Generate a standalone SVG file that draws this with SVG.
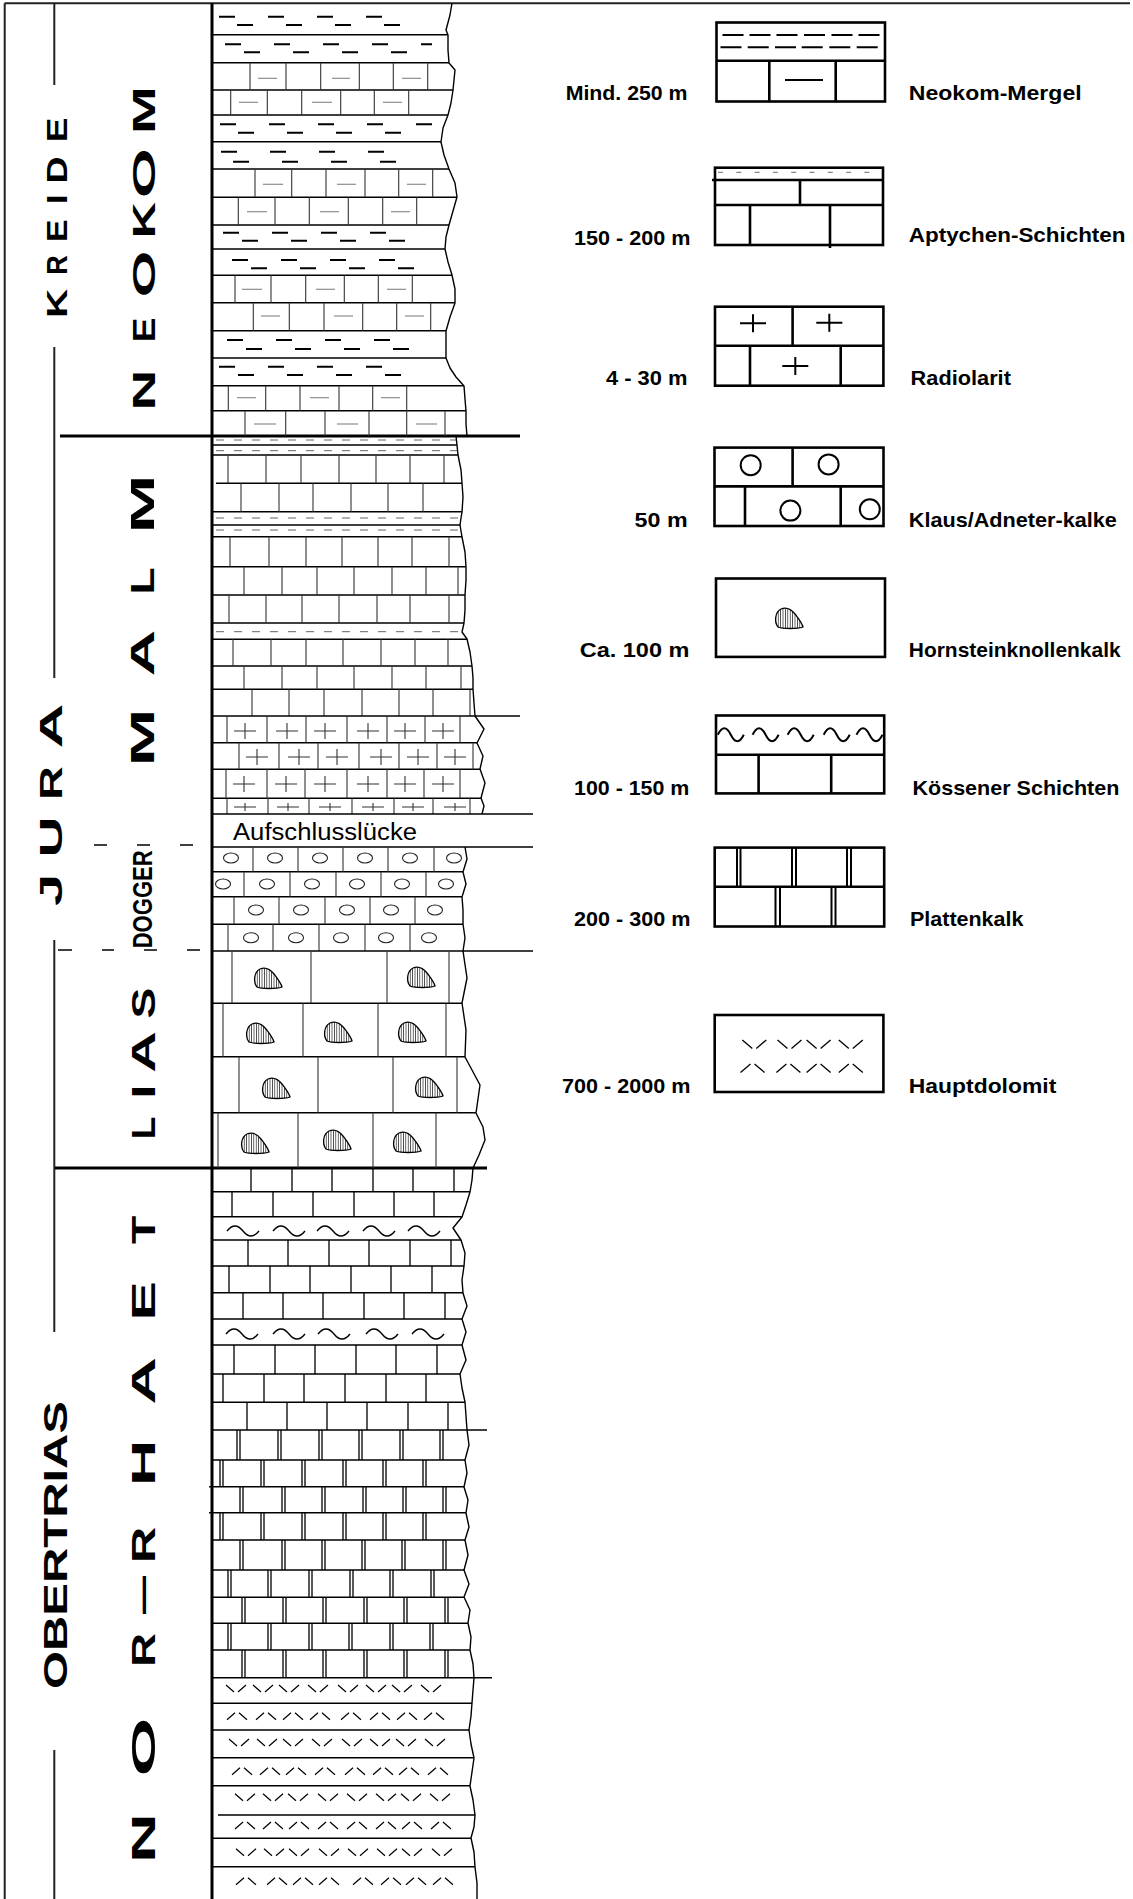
<svg xmlns="http://www.w3.org/2000/svg" width="1133" height="1899" viewBox="0 0 1133 1899">
<style>
.fr{stroke:#222;stroke-width:2;fill:none}
.tk{stroke:#000;stroke-width:3;fill:none}
.ln{stroke:#000;stroke-width:1.4;fill:none}
.vl{stroke:#333;stroke-width:1.1;fill:none}
.vk{stroke:#000;stroke-width:1.3;fill:none}
.gr{stroke:#777;stroke-width:1.1;fill:none}
.md{stroke:#000;stroke-width:2;stroke-dasharray:16 33;fill:none}
.gd{stroke:#666;stroke-width:1;stroke-dasharray:8 10;fill:none}
.edge{stroke:#000;stroke-width:1.4;fill:none;stroke-linejoin:round}
.dsh{stroke:#000;stroke-width:1.6;fill:none}
.big{font-family:"Liberation Sans",Arial,sans-serif;font-weight:bold;text-anchor:middle;fill:#000}
.side{font-family:"Liberation Sans",Arial,sans-serif;font-weight:bold;fill:#000}
.leg{font-family:"Liberation Sans",Arial,sans-serif;font-weight:bold;font-size:21px;fill:#000}
.lb{stroke:#000;stroke-width:2.6;fill:none}
.ls{stroke:#000;stroke-width:2;fill:none}
</style>
<defs>
<pattern id="hatch" patternUnits="userSpaceOnUse" width="2.4" height="4"><path d="M1.2 0V4" stroke="#000" stroke-width="0.7"/></pattern>
<path id="nod" d="M-11 9C-15 4-14-6-8-9C-3-11 2-9 6-4C9 0 13 5 14 9C8 11-6 11-11 9Z" fill="url(#hatch)" stroke="#000" stroke-width="1.3"/>
<path id="cr" d="M-11 0H11M0-8V8" stroke="#333" stroke-width="1.1" fill="none"/>
<path id="crs" d="M-11 0H11M0-4V4" stroke="#333" stroke-width="1.1" fill="none"/>
<ellipse id="oo" cx="0" cy="0" rx="7.5" ry="5" fill="none" stroke="#222" stroke-width="1.1"/>
<path id="tl" d="M0 0q8-10 16 0t16 0" fill="none" stroke="#000" stroke-width="1.4"/>
<path id="vv" d="M0-4L8 3M12 3L20-4" fill="none" stroke="#000" stroke-width="1.2"/>
<path id="aa" d="M0 4L8-3M12-3L20 4" fill="none" stroke="#000" stroke-width="1.2"/>
<path id="lcr" d="M-13 0H13M0-9V9" fill="none" stroke="#000" stroke-width="2"/>
<path id="ltl" d="M0 0q6.5-13 13 0t13 0" fill="none" stroke="#000" stroke-width="2"/>
<path id="lvv" d="M0-4.5L10 4M14 4L24-4.5" fill="none" stroke="#000" stroke-width="1.3"/>
<path id="laa" d="M0 4.5L10-4M14-4L24 4.5" fill="none" stroke="#000" stroke-width="1.3"/>
</defs>

<g id="frame">
<path class="fr" d="M4.7 3.3H1130M4.7 3.3V1899"/>
<path class="fr" d="M54.3 3.3V85M54.3 347V678M54.3 940V1332M54.3 1750V1899" stroke-width="1.8"/>
<path class="tk" d="M212 3.3V1899"/>
<path class="tk" d="M60 436H520M55 1168H487"/>
<path class="dsh" d="M94 845H107M137 845H150M180 845H193M58 950H72M102 950H114M144 950H157M187 950H200"/>
</g>

<g id="age-labels">
<g id="kreide">
<text class="big" font-size="30" transform="translate(66.7,303.3) rotate(-90) scale(1.35,1)">K</text>
<text class="big" font-size="30" transform="translate(66.7,265) rotate(-90) scale(0.9,1)">R</text>
<text class="big" font-size="30" transform="translate(66.7,230.8) rotate(-90) scale(1.13,1)">E</text>
<text class="big" font-size="30" transform="translate(66.7,199.2) rotate(-90) scale(1.2,1)">I</text>
<text class="big" font-size="30" transform="translate(66.7,170) rotate(-90) scale(1.25,1)">D</text>
<text class="big" font-size="30" transform="translate(66.7,130) rotate(-90) scale(1.23,1)">E</text>
</g>
<g id="neokom">
<text class="big" font-size="32" transform="translate(155,110) rotate(-90) scale(1.8,1)">M</text>
<text class="big" font-size="32" transform="translate(155,173) rotate(-90) scale(2.0,1)">O</text>
<text class="big" font-size="32" transform="translate(155,220) rotate(-90) scale(1.57,1)">K</text>
<text class="big" font-size="32" transform="translate(155,274) rotate(-90) scale(1.87,1)">O</text>
<text class="big" font-size="32" transform="translate(155,330) rotate(-90) scale(1.16,1)">E</text>
<text class="big" font-size="32" transform="translate(155,390) rotate(-90) scale(1.77,1)">N</text>
</g>
<g id="malm">
<text class="big" font-size="33" transform="translate(154,504) rotate(-90) scale(2.15,1)">M</text>
<text class="big" font-size="33" transform="translate(154,581) rotate(-90) scale(1.34,1)">L</text>
<text class="big" font-size="33" transform="translate(154,653) rotate(-90) scale(1.95,1)">A</text>
<text class="big" font-size="33" transform="translate(154,737.5) rotate(-90) scale(2.1,1)">M</text>
</g>
<g id="jura">
<text class="big" font-size="31" transform="translate(61.7,726) rotate(-90) scale(2.0,1)">A</text>
<text class="big" font-size="31" transform="translate(61.7,783) rotate(-90) scale(1.5,1)">R</text>
<text class="big" font-size="31" transform="translate(61.7,837) rotate(-90) scale(1.83,1)">U</text>
<text class="big" font-size="31" transform="translate(61.7,890) rotate(-90) scale(1.87,1)">J</text>
</g>
<g id="dogger">
<text class="side" font-size="28" textLength="98" lengthAdjust="spacingAndGlyphs" transform="translate(151.7,948.3) rotate(-90)">DOGGER</text>
</g>
<g id="lias">
<text class="big" font-size="33" transform="translate(155,1003) rotate(-90) scale(1.4,1)">S</text>
<text class="big" font-size="33" transform="translate(155,1052) rotate(-90) scale(1.74,1)">A</text>
<text class="big" font-size="33" transform="translate(155,1091.5) rotate(-90) scale(1.5,1)">I</text>
<text class="big" font-size="33" transform="translate(155,1128) rotate(-90) scale(1.12,1)">L</text>
</g>
<g id="obertrias">
<text class="side" font-size="32.5" textLength="288" lengthAdjust="spacingAndGlyphs" transform="translate(66.7,1689) rotate(-90)">OBERTRIAS</text>
</g>
<g id="nor-rhaet">
<text class="big" font-size="33" transform="translate(155,1230) rotate(-90) scale(1.4,1)">T</text>
<text class="big" font-size="33" transform="translate(155,1301) rotate(-90) scale(1.78,1)">E</text>
<text class="big" font-size="33" transform="translate(155,1381) rotate(-90) scale(2.0,1)">A</text>
<text class="big" font-size="33" transform="translate(155,1463) rotate(-90) scale(1.94,1)">H</text>
<text class="big" font-size="33" transform="translate(155,1545) rotate(-90) scale(1.52,1)">R</text>
<text class="big" font-size="33" transform="translate(152.5,1595) rotate(-90) scale(1.15,1)">—</text>
<text class="big" font-size="33" transform="translate(155,1650) rotate(-90) scale(1.43,1)">R</text>
<text class="big" font-size="33" transform="translate(155,1747) rotate(-90) scale(2.3,1)">O</text>
<text class="big" font-size="33" transform="translate(155,1838) rotate(-90) scale(2.1,1)">N</text>
</g>
</g>

<g id="column">
<g id="neokom-beds">
<path class="ln" d="M212 34.7H448M212 62.7H449M212 90H453M212 115H448M212 141.7H441M212 169H449M212 197.3H457M212 225H449M212 249H445M212 275.3H452M212 302.7H455M212 330.7H446M212 358H446M212 385.7H464M212 410.7H466"/>
<path class="vl" d="M250 62.7V90M286 62.7V90M320.7 62.7V90M359.3 62.7V90M393.3 62.7V90M427.7 62.7V90M230.7 90V115M267.3 90V115M301.7 90V115M340.7 90V115M374.3 90V115M408.7 90V115M255 169V197.3M291.7 169V197.3M326 169V197.3M365 169V197.3M398.7 169V197.3M432.7 169V197.3M238.3 197.3V225M275 197.3V225M309.3 197.3V225M348.3 197.3V225M382.7 197.3V225M416.7 197.3V225M235 275.3V302.7M271 275.3V302.7M305.7 275.3V302.7M344.3 275.3V302.7M378.3 275.3V302.7M412.3 275.3V302.7M253.3 302.7V330.7M289.3 302.7V330.7M324 302.7V330.7M362.7 302.7V330.7M396.7 302.7V330.7M430.7 302.7V330.7M228.3 385.7V410.7M265.7 385.7V410.7M300 385.7V410.7M339 385.7V410.7M372.7 385.7V410.7M406.7 385.7V410.7M245 410.7V436M285.7 410.7V436M325 410.7V436M369 410.7V436M406.7 410.7V436M445 410.7V436"/>
<path class="gr" d="M258 78.3H277M332 78.3H350M402 78.3H421M239 102.3H258M312 102.3H332M383 102.3H402M263 184.3H283M337 184.3H356M407 184.3H426M247 211.7H267M320 211.7H339M391 211.7H410M242 289.3H262M316 289.3H335M387 289.3H406M261 316H280M334 316H353M405 316H424M237 397.7H256M310 397.7H329M381 397.7H400M254 424H276M337 424H358M416 424H437"/>
<path class="md" d="M219 16.7h163"/><path class="md" d="M237 25h163"/>
<path class="md" d="M225 44.3h207"/><path class="md" d="M244 52.3h163"/>
<path class="md" d="M220 124.3h212"/><path class="md" d="M238 132.7h163"/>
<path class="md" d="M221 151.7h163"/><path class="md" d="M233 161.7h163"/>
<path class="md" d="M223 232.7h163"/><path class="md" d="M242 240.7h163"/>
<path class="md" d="M232 260h163"/><path class="md" d="M251 268.3h163"/>
<path class="md" d="M227 340h163"/><path class="md" d="M246 349h163"/>
<path class="md" d="M219 366.7h163"/><path class="md" d="M238 375h163"/>
<path class="edge" d="M452 3L450 15L446 30L448 35L448 50L449 63L455 70L454 80L453 90L451 103L448 115L443 128L441 142L444 155L449 169L455 183L457 197L453 211L449 225L446 237L445 249L448 262L452 275L455 289L455 303L450 317L446 331L446 345L446 358L450 368L456 377L464 386L465 399L466 411L466 424L467 436"/>
</g>
<g id="malm-beds">
<path class="ln" d="M212 445H457M212 455H458M216 483.3H462M212 511.7H462M212 525H460M212 536.7H462M212 566.7H466M212 595H465M212 623H464M212 639.3H467M212 666H472M212 689.3H473"/>
<path class="gd" d="M216 440H456"/><path class="gd" d="M216 450.7H457"/><path class="gd" d="M216 518H461"/><path class="gd" d="M216 530H461"/><path class="gd" d="M216 631.7H463"/>
<path class="vl" d="M228 455V483.3M266 455V483.3M301 455V483.3M339 455V483.3M376 455V483.3M410 455V483.3M444 455V483.3M241 483.3V511.7M279 483.3V511.7M313 483.3V511.7M351 483.3V511.7M388 483.3V511.7M423 483.3V511.7M230 536.7V566.7M269 536.7V566.7M306 536.7V566.7M342 536.7V566.7M378 536.7V566.7M412 536.7V566.7M449 536.7V566.7M244 566.7V595M282 566.7V595M317 566.7V595M354 566.7V595M392 566.7V595M426 566.7V595M458 566.7V595M229 595V623M266 595V623M302 595V623M339 595V623M377 595V623M410 595V623M449 595V623M233 639.3V666M271 639.3V666M306 639.3V666M343 639.3V666M381 639.3V666M415 639.3V666M448 639.3V666M244 666V689.3M282 666V689.3M317 666V689.3M354 666V689.3M392 666V689.3M426 666V689.3M461 666V689.3M252 689.3V716M289 689.3V716M324 689.3V716M362 689.3V716M399 689.3V716M433 689.3V716M470 689.3V716"/>
<path class="edge" d="M456 436L457 445L458 455L461 470L462 483L463 497L462 512L461 518L460 525L462 537L465 552L466 567L466 580L465 595L465 610L464 623L462 632L467 639L470 652L472 666L473 678L473 689L474 703L475 716"/>
<path class="ln" d="M212 716H520"/>
</g>
<g id="radiolarit-beds">
<path class="ln" d="M212 742.7H477M212 769.3H480M212 798.3H481"/>
<path class="vl" d="M227 716V742.7M267 716V742.7M306 716V742.7M347 716V742.7M387 716V742.7M425 716V742.7M460 716V742.7M239 742.7V769.3M279 742.7V769.3M318 742.7V769.3M359 742.7V769.3M399 742.7V769.3M437 742.7V769.3M473 742.7V769.3M226 769.3V798.3M267 769.3V798.3M305 769.3V798.3M347 769.3V798.3M387 769.3V798.3M424 769.3V798.3M460 769.3V798.3M227 798.3V814M268 798.3V814M309 798.3V814M352 798.3V814M394 798.3V814M433 798.3V814M470 798.3V814"/>
<use href="#cr" x="245" y="731"/><use href="#cr" x="287" y="731"/><use href="#cr" x="325" y="731"/><use href="#cr" x="368" y="731"/><use href="#cr" x="405" y="731"/><use href="#cr" x="443" y="731"/>
<use href="#cr" x="257" y="757"/><use href="#cr" x="299" y="757"/><use href="#cr" x="337" y="757"/><use href="#cr" x="381" y="757"/><use href="#cr" x="418" y="757"/><use href="#cr" x="455" y="757"/>
<use href="#cr" x="244" y="784"/><use href="#cr" x="286" y="784"/><use href="#cr" x="325" y="784"/><use href="#cr" x="368" y="784"/><use href="#cr" x="405" y="784"/><use href="#cr" x="443" y="784"/>
<use href="#crs" x="245" y="807"/><use href="#crs" x="288" y="807"/><use href="#crs" x="330" y="807"/><use href="#crs" x="373" y="807"/><use href="#crs" x="413" y="807"/><use href="#crs" x="455" y="807"/>
<path class="edge" d="M475 716L484 729L477 743L483 756L480 769L485 783L481 798L484 806L482 814"/>
</g>
<g id="aufschlussluecke">
<path class="ln" d="M212 814H533M212 847H533"/>
<text x="233" y="840" font-family="'Liberation Sans',Arial,sans-serif" font-size="23" textLength="184" lengthAdjust="spacingAndGlyphs" fill="#000">Aufschlusslücke</text>
</g>
<g id="dogger-beds">
<path class="ln" d="M212 871.7H463M212 896.7H462M212 924.3H463"/>
<path class="vl" d="M253 847V871.7M298 847V871.7M343 847V871.7M388 847V871.7M434 847V871.7M244 871.7V896.7M290 871.7V896.7M336 871.7V896.7M381 871.7V896.7M426 871.7V896.7M234 896.7V924.3M279 896.7V924.3M325 896.7V924.3M370 896.7V924.3M415 896.7V924.3M228 924.3V951M273 924.3V951M319 924.3V951M365 924.3V951M410 924.3V951"/>
<use href="#oo" x="231" y="858"/><use href="#oo" x="275" y="858"/><use href="#oo" x="320" y="858"/><use href="#oo" x="365" y="858"/><use href="#oo" x="410" y="858"/><use href="#oo" x="454" y="858"/>
<use href="#oo" x="223" y="884"/><use href="#oo" x="267" y="884"/><use href="#oo" x="312" y="884"/><use href="#oo" x="357" y="884"/><use href="#oo" x="402" y="884"/><use href="#oo" x="446" y="884"/>
<use href="#oo" x="256" y="910"/><use href="#oo" x="301" y="910"/><use href="#oo" x="347" y="910"/><use href="#oo" x="391" y="910"/><use href="#oo" x="435" y="910"/>
<use href="#oo" x="251" y="937.7"/><use href="#oo" x="296" y="937.7"/><use href="#oo" x="341" y="937.7"/><use href="#oo" x="386" y="937.7"/><use href="#oo" x="429" y="937.7"/>
<path class="edge" d="M465 847L467 859L463 872L466 884L462 897L463 910L463 924L465 938L463 951"/>
<path class="ln" d="M212 951H533"/>
</g>
<g id="lias-beds">
<path class="ln" d="M212 1003.3H462M212 1056.7H465M212 1112.7H476"/>
<path class="vl" d="M232 951V1003.3M311 951V1003.3M387 951V1003.3M449 951V1003.3M223 1003.3V1056.7M303 1003.3V1056.7M378 1003.3V1056.7M446 1003.3V1056.7M239 1056.7V1112.7M318 1056.7V1112.7M393 1056.7V1112.7M457 1056.7V1112.7M218 1112.7V1168M298 1112.7V1168M373 1112.7V1168M436 1112.7V1168"/>
<use href="#nod" x="268" y="978"/><use href="#nod" x="421" y="977"/>
<use href="#nod" x="260" y="1033"/><use href="#nod" x="338" y="1032"/><use href="#nod" x="412" y="1032"/>
<use href="#nod" x="276" y="1088"/><use href="#nod" x="429" y="1087"/>
<use href="#nod" x="255" y="1143"/><use href="#nod" x="337" y="1140"/><use href="#nod" x="407" y="1142"/>
<path class="edge" d="M463 951L467 978L462 1003L466 1030L465 1057L472 1070L480 1085L476 1113L483 1127L485 1140L479 1155L473 1168"/>
</g>
<g id="rhaet-beds">
<path class="ln" d="M212 1191.7H470M212 1216.7H462M212 1240H461M212 1266H464M212 1292.7H463M212 1319H462M212 1345H462M212 1374H460M212 1402.3H465"/>
<path class="vk" d="M251 1168V1191.7M292 1168V1191.7M332 1168V1191.7M373 1168V1191.7M413 1168V1191.7M454 1168V1191.7M232 1191.7V1216.7M273 1191.7V1216.7M313 1191.7V1216.7M354 1191.7V1216.7M394 1191.7V1216.7M434 1191.7V1216.7M248 1240V1266M288 1240V1266M329 1240V1266M369 1240V1266M410 1240V1266M451 1240V1266M229 1266V1292.7M270 1266V1292.7M310 1266V1292.7M351 1266V1292.7M391 1266V1292.7M432 1266V1292.7M243 1292.7V1319M283 1292.7V1319M323 1292.7V1319M364 1292.7V1319M404 1292.7V1319M445 1292.7V1319M234 1345V1374M275 1345V1374M315 1345V1374M356 1345V1374M396 1345V1374M437 1345V1374M223 1374V1402.3M264 1374V1402.3M304 1374V1402.3M345 1374V1402.3M386 1374V1402.3M426 1374V1402.3M247 1402.3V1430M287 1402.3V1430M327 1402.3V1430M367 1402.3V1430M408 1402.3V1430M448 1402.3V1430"/>
<use href="#tl" x="227" y="1231"/><use href="#tl" x="273" y="1231"/><use href="#tl" x="317" y="1231"/><use href="#tl" x="363" y="1231"/><use href="#tl" x="408" y="1231"/>
<use href="#tl" x="226" y="1334"/><use href="#tl" x="273" y="1334"/><use href="#tl" x="318" y="1334"/><use href="#tl" x="366" y="1334"/><use href="#tl" x="412" y="1334"/>
<path class="edge" d="M473 1168L472 1180L470 1192L466 1205L462 1217L453 1228L461 1240L465 1253L464 1266L462 1280L463 1293L467 1306L462 1319L466 1332L462 1345L466 1360L460 1374L462 1388L465 1402L466 1416L467 1430"/>
<path class="ln" d="M212 1430H487"/>
</g>
<g id="plattenkalk-beds">
<path class="ln" d="M212 1460H465M209 1486.7H464M209 1512.7H466M212 1540H465M212 1570H464M212 1597.3H464M212 1623.3H468M212 1650H470"/>
<path class="vk" stroke-width="1.1" d="M237 1430V1460M240 1430V1460M278 1430V1460M281 1430V1460M319 1430V1460M322 1430V1460M359 1430V1460M362 1430V1460M400 1430V1460M403 1430V1460M440 1430V1460M443 1430V1460M220 1460V1486.7M223 1460V1486.7M261 1460V1486.7M264 1460V1486.7M302 1460V1486.7M305 1460V1486.7M343 1460V1486.7M346 1460V1486.7M383 1460V1486.7M386 1460V1486.7M423 1460V1486.7M426 1460V1486.7M240 1486.7V1512.7M243 1486.7V1512.7M282 1486.7V1512.7M285 1486.7V1512.7M322 1486.7V1512.7M325 1486.7V1512.7M363 1486.7V1512.7M366 1486.7V1512.7M403 1486.7V1512.7M406 1486.7V1512.7M443 1486.7V1512.7M446 1486.7V1512.7M220 1512.7V1540M223 1512.7V1540M261 1512.7V1540M264 1512.7V1540M302 1512.7V1540M305 1512.7V1540M343 1512.7V1540M346 1512.7V1540M383 1512.7V1540M386 1512.7V1540M423 1512.7V1540M426 1512.7V1540M240 1540V1570M243 1540V1570M282 1540V1570M285 1540V1570M322 1540V1570M325 1540V1570M362 1540V1570M365 1540V1570M402 1540V1570M405 1540V1570M443 1540V1570M446 1540V1570M228 1570V1597.3M231 1570V1597.3M268 1570V1597.3M271 1570V1597.3M309 1570V1597.3M312 1570V1597.3M350 1570V1597.3M353 1570V1597.3M390 1570V1597.3M393 1570V1597.3M431 1570V1597.3M434 1570V1597.3M242 1597.3V1623.3M245 1597.3V1623.3M283 1597.3V1623.3M286 1597.3V1623.3M323 1597.3V1623.3M326 1597.3V1623.3M364 1597.3V1623.3M367 1597.3V1623.3M404 1597.3V1623.3M407 1597.3V1623.3M445 1597.3V1623.3M448 1597.3V1623.3M228 1623.3V1650M231 1623.3V1650M268 1623.3V1650M271 1623.3V1650M309 1623.3V1650M312 1623.3V1650M349 1623.3V1650M352 1623.3V1650M390 1623.3V1650M393 1623.3V1650M430 1623.3V1650M433 1623.3V1650M242 1650V1677.7M245 1650V1677.7M283 1650V1677.7M286 1650V1677.7M323 1650V1677.7M326 1650V1677.7M364 1650V1677.7M367 1650V1677.7M404 1650V1677.7M407 1650V1677.7M445 1650V1677.7M448 1650V1677.7"/>
<path class="edge" d="M467 1430L469 1445L465 1460L467 1473L464 1487L468 1500L466 1513L469 1527L465 1540L468 1555L464 1570L469 1584L464 1597L470 1610L468 1623L471 1637L470 1650L473 1664L474 1678"/>
<path class="ln" d="M212 1677.7H492"/>
</g>
<g id="hauptdolomit-beds">
<path class="ln" d="M212 1703.3H472M212 1730H469M212 1757.7H474M212 1785.7H470M218 1815H475M212 1838.3H471M212 1866.7H475"/>
<use href="#vv" x="226" y="1689"/><use href="#vv" x="253" y="1689"/><use href="#vv" x="279" y="1689"/><use href="#vv" x="308" y="1689"/><use href="#vv" x="338" y="1689"/><use href="#vv" x="366" y="1689"/><use href="#vv" x="392" y="1689"/><use href="#vv" x="421" y="1689"/>
<use href="#aa" x="227" y="1715.7"/><use href="#aa" x="256" y="1715.7"/><use href="#aa" x="283" y="1715.7"/><use href="#aa" x="310" y="1715.7"/><use href="#aa" x="341" y="1715.7"/><use href="#aa" x="370" y="1715.7"/><use href="#aa" x="397" y="1715.7"/><use href="#aa" x="424" y="1715.7"/>
<use href="#vv" x="229" y="1743"/><use href="#vv" x="257" y="1743"/><use href="#vv" x="283" y="1743"/><use href="#vv" x="312" y="1743"/><use href="#vv" x="342" y="1743"/><use href="#vv" x="370" y="1743"/><use href="#vv" x="396" y="1743"/><use href="#vv" x="425" y="1743"/>
<use href="#aa" x="232" y="1770.7"/><use href="#aa" x="260" y="1770.7"/><use href="#aa" x="286" y="1770.7"/><use href="#aa" x="315" y="1770.7"/><use href="#aa" x="345" y="1770.7"/><use href="#aa" x="373" y="1770.7"/><use href="#aa" x="399" y="1770.7"/><use href="#aa" x="428" y="1770.7"/>
<use href="#vv" x="235" y="1797.7"/><use href="#vv" x="263" y="1797.7"/><use href="#vv" x="288" y="1797.7"/><use href="#vv" x="318" y="1797.7"/><use href="#vv" x="347" y="1797.7"/><use href="#vv" x="376" y="1797.7"/><use href="#vv" x="401" y="1797.7"/><use href="#vv" x="430" y="1797.7"/>
<use href="#aa" x="235" y="1825"/><use href="#aa" x="263" y="1825"/><use href="#aa" x="289" y="1825"/><use href="#aa" x="318" y="1825"/><use href="#aa" x="347" y="1825"/><use href="#aa" x="376" y="1825"/><use href="#aa" x="402" y="1825"/><use href="#aa" x="431" y="1825"/>
<use href="#vv" x="236" y="1852.7"/><use href="#vv" x="264" y="1852.7"/><use href="#vv" x="289" y="1852.7"/><use href="#vv" x="319" y="1852.7"/><use href="#vv" x="348" y="1852.7"/><use href="#vv" x="377" y="1852.7"/><use href="#vv" x="402" y="1852.7"/><use href="#vv" x="432" y="1852.7"/>
<use href="#aa" x="236" y="1880.7"/><use href="#aa" x="267" y="1880.7"/><use href="#aa" x="293" y="1880.7"/><use href="#aa" x="319" y="1880.7"/><use href="#aa" x="353" y="1880.7"/><use href="#aa" x="381" y="1880.7"/><use href="#aa" x="406" y="1880.7"/><use href="#aa" x="433" y="1880.7"/>
<path class="edge" d="M474 1678L473 1690L472 1703L471 1716L469 1730L471 1744L474 1758L472 1772L470 1786L473 1800L475 1815L474 1827L471 1838L474 1852L475 1867L477 1883L477 1899"/>
</g>
</g>

<g id="legend">
<g id="leg-neokom-mergel">
<rect class="lb" x="716.5" y="22.5" width="168.5" height="79"/>
<path class="lb" d="M716.5 60.7H885M769.3 60.7V101.5M835.7 60.7V101.5"/>
<path class="ls" stroke-width="2.3" d="M722.5 35h21M749.5 35h21M776.5 35h21M804 35h21M831.5 35h21M858.5 35h21M720.5 47.3h21M747.7 47.3h21M775 47.3h21M801.7 47.3h21M829.3 47.3h21M856.7 47.3h21M785 80H823"/>
<text class="leg" x="565.7" y="100" textLength="121.8" lengthAdjust="spacingAndGlyphs">Mind. 250 m</text>
<text class="leg" x="908.8" y="100" textLength="172.8" lengthAdjust="spacingAndGlyphs">Neokom-Mergel</text>
</g>
<g id="leg-aptychen">
<rect class="lb" x="715" y="167.7" width="168" height="77.3"/>
<path d="M718 172.3H880" stroke="#888" stroke-width="1.3" stroke-dasharray="5 13.3" fill="none"/>
<path class="lb" d="M712 180H883M715 205H883M800 180V205M750 205V245M830 205V248"/>
<text class="leg" x="574" y="245" textLength="116.5" lengthAdjust="spacingAndGlyphs">150 - 200 m</text>
<text class="leg" x="908.8" y="242" textLength="216.7" lengthAdjust="spacingAndGlyphs">Aptychen-Schichten</text>
</g>
<g id="leg-radiolarit">
<rect class="lb" x="715" y="306.7" width="168.4" height="79"/>
<path class="lb" d="M715 345.7H883.4M792.6 306.7V345.7M750 345.7V385.7M840.7 345.7V385.7"/>
<use href="#lcr" x="753" y="323.3"/><use href="#lcr" x="829.3" y="322.7"/><use href="#lcr" x="795.3" y="366"/>
<text class="leg" x="606" y="385" textLength="81.5" lengthAdjust="spacingAndGlyphs">4 - 30 m</text>
<text class="leg" x="910.6" y="385" textLength="100.3" lengthAdjust="spacingAndGlyphs">Radiolarit</text>
</g>
<g id="leg-klaus">
<rect class="lb" x="714.5" y="447.6" width="169" height="78.4"/>
<path class="lb" d="M714.5 486.4H883.5M792.6 447.6V486.4M745 486.4V526M840.7 486.4V526"/>
<circle class="ls" cx="750.7" cy="465.2" r="10"/><circle class="ls" cx="828.6" cy="464.4" r="10"/><circle class="ls" cx="790.4" cy="510.6" r="10"/><circle class="ls" cx="869.8" cy="509.3" r="10"/>
<text class="leg" x="634.6" y="527" textLength="53" lengthAdjust="spacingAndGlyphs">50 m</text>
<text class="leg" x="908.8" y="527" textLength="208" lengthAdjust="spacingAndGlyphs">Klaus/Adneter-kalke</text>
</g>
<g id="leg-hornstein">
<rect class="lb" x="716" y="578.5" width="169" height="78.4"/>
<use href="#nod" x="789" y="618"/>
<text class="leg" x="579.7" y="657" textLength="109.7" lengthAdjust="spacingAndGlyphs">Ca. 100 m</text>
<text class="leg" x="908.8" y="657" textLength="211.8" lengthAdjust="spacingAndGlyphs">Hornsteinknollenkalk</text>
</g>
<g id="leg-koessener">
<rect class="lb" x="716" y="715.5" width="168.2" height="77.9"/>
<path class="lb" d="M716 754.7H884.2M758.6 754.7V793.4M831.2 754.7V793.4"/>
<use href="#ltl" x="717.8" y="734.8"/><use href="#ltl" x="752.6" y="734.8"/><use href="#ltl" x="787.7" y="734.8"/><use href="#ltl" x="823.7" y="734.8"/><use href="#ltl" x="856.5" y="734.8"/>
<text class="leg" x="574" y="795" textLength="115.4" lengthAdjust="spacingAndGlyphs">100 - 150 m</text>
<text class="leg" x="912.5" y="795" textLength="206.9" lengthAdjust="spacingAndGlyphs">Kössener Schichten</text>
</g>
<g id="leg-plattenkalk">
<rect class="lb" x="714.7" y="847.6" width="169.5" height="78.9"/>
<path class="lb" d="M714.7 886.8H884.2"/>
<path class="ls" d="M737 847.6V886.8M740.5 847.6V886.8M792 847.6V886.8M796 847.6V886.8M847 847.6V886.8M851 847.6V886.8M775.5 886.8V926.5M780 886.8V926.5M831.5 886.8V926.5M835.5 886.8V926.5"/>
<text class="leg" x="574" y="925.6" textLength="116.5" lengthAdjust="spacingAndGlyphs">200 - 300 m</text>
<text class="leg" x="910" y="925.6" textLength="113.4" lengthAdjust="spacingAndGlyphs">Plattenkalk</text>
</g>
<g id="leg-hauptdolomit">
<rect class="lb" x="714.7" y="1015" width="168.7" height="77"/>
<use href="#lvv" x="742.3" y="1044.5"/><use href="#lvv" x="777.5" y="1044.5"/><use href="#lvv" x="806.6" y="1044.5"/><use href="#lvv" x="838.8" y="1044.5"/>
<use href="#laa" x="740.5" y="1067.9"/><use href="#laa" x="776.4" y="1067.9"/><use href="#laa" x="806.6" y="1067.9"/><use href="#laa" x="838.8" y="1067.9"/>
<text class="leg" x="562" y="1093" textLength="128.5" lengthAdjust="spacingAndGlyphs">700 - 2000 m</text>
<text class="leg" x="908.8" y="1093" textLength="147.5" lengthAdjust="spacingAndGlyphs">Hauptdolomit</text>
</g>
</g>
</svg>
